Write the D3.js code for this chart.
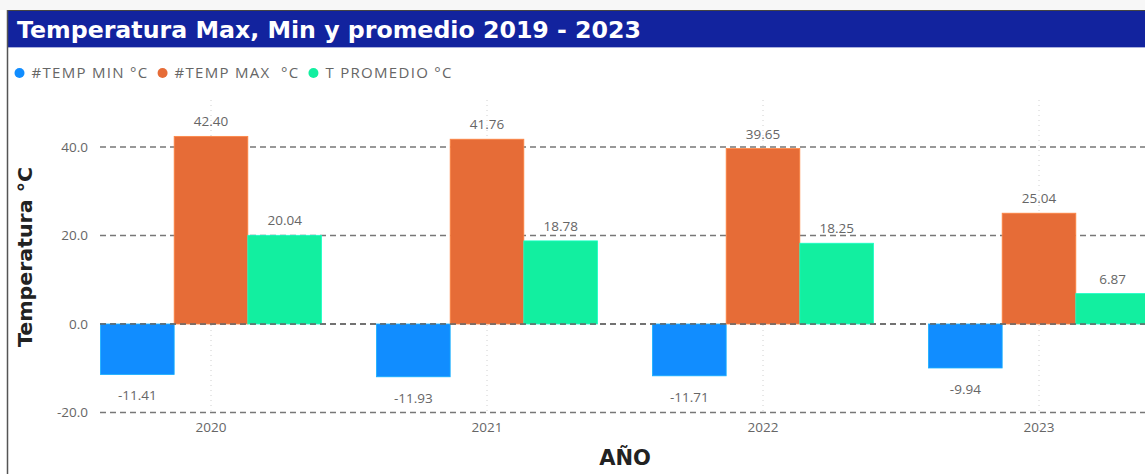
<!DOCTYPE html>
<html>
<head>
<meta charset="utf-8">
<script src="https://cdnjs.cloudflare.com/ajax/libs/d3/7.8.5/d3.min.js"></script>
<style>
body{margin:0;background:#fff;overflow:hidden}
svg{display:block}
</style>
</head>
<body>
<svg id="svg" width="1145" height="474"></svg>
<script>
// data
var years=["2020","2021","2022","2023"];
var seriesNames=["#TEMP MIN °C","#TEMP MAX  °C","T PROMEDIO °C"];
var tempMin=[-11.41,-11.93,-11.71,-9.94];
var tempMax=[42.40,41.76,39.65,25.04];
var tempProm=[20.04,18.78,18.25,6.87];
var yTicks=[-20,0,20,40];
var colors=["#118DFF","#E66C37","#12EFA0"];

var width=+d3.select("#svg").attr("width")
var height=+d3.select("#svg").attr("height")
var svg=d3.select("#svg")
var font="'Segoe UI','Open Sans',sans-serif";
var boldFont="'DejaVu Sans',Verdana,sans-serif";
var loc=d3.formatLocale({decimal:".",thousands:",",grouping:[3],currency:["",""],minus:"-"})

var rows=years.map((y,i)=>({year:y,values:[tempMin[i],tempMax[i],tempProm[i]]}))

//frame + title bar
svg.append("rect").attr("x",0).attr("y",0).attr("width",width).attr("height",10).style("fill","#f7f7f7")
svg.append("rect").attr("x",7).attr("y",10).attr("width",width-7).attr("height",37).style("fill","#12239E")
svg.append("line").attr("x1",7).attr("x2",width).attr("y1",10.5).attr("y2",10.5).style("stroke","#444").style("stroke-width",1)
svg.append("line").attr("x1",7).attr("x2",width).attr("y1",47.5).attr("y2",47.5).style("stroke","#aab0dd").style("stroke-width",1)
svg.append("line").attr("x1",7.5).attr("x2",7.5).attr("y1",10).attr("y2",height).style("stroke","#555").style("stroke-width",1.5)

svg.append("text")
    .text("Temperatura Max, Min y promedio 2019 - 2023")
    .attr("x",17).attr("y",38)
    .attr("textLength",624)
    .attr("lengthAdjust","spacingAndGlyphs")
    .style("fill","#fff")
    .style("font-family",boldFont)
    .style("font-weight","bold")
    .style("font-size","23px")

//legend
var legend=svg.append("g").attr("transform","translate(19.5,73)")
var lx=0;
seriesNames.forEach((name,i)=>{
    var g=legend.append("g").attr("transform","translate("+lx+",0)")
    g.append("circle").attr("r",5).style("fill",colors[i])
    var t=g.append("text").text(name)
        .attr("x",12).attr("dy","0.36em")
        .style("fill","#666")
        .style("font-family",font)
        .style("font-size","15px")
        .style("letter-spacing","1.3px")
        .style("white-space","pre")
    lx+=12+t.node().getComputedTextLength()+14;
})

//scales
var x0=d3.scaleBand().domain(years).range([73,1177])
var x1=d3.scaleBand().domain(d3.range(3)).range([-110.5,110.5])
var y=d3.scaleLinear().domain([-20,40]).range([412.5,147])
var plotLeft=100, plotTop=100;

//vertical dotted grid
svg.append("g").selectAll("line")
    .data(years)
    .enter().append("line")
        .attr("x1",d=>x0(d)+x0.bandwidth()/2)
        .attr("x2",d=>x0(d)+x0.bandwidth()/2)
        .attr("y1",plotTop).attr("y2",y(-20))
        .style("stroke","#d0d0d0")
        .style("stroke-dasharray","1,4")

//y axis + horizontal dashed grid
var yAxis=d3.axisLeft(y).tickValues(yTicks).tickFormat(loc.format(".1f")).tickSize(0).tickPadding(12)
svg.append("g")
    .attr("transform","translate("+plotLeft+",0)")
    .call(yAxis)
    .call(g=>g.select(".domain").remove())
    .call(g=>g.selectAll("text").style("fill","#666").style("font-family",font).style("font-size","13.5px"))

svg.append("g").selectAll("line")
    .data(yTicks)
    .enter().append("line")
        .attr("x1",plotLeft).attr("x2",width)
        .attr("y1",d=>y(d)).attr("y2",d=>y(d))
        .style("stroke","#777")
        .style("stroke-width",1.5)
        .style("stroke-dasharray","6,4")

//bars
var group=svg.append("g").selectAll("g")
    .data(rows)
    .enter().append("g")
        .attr("transform",d=>"translate("+(x0(d.year)+x0.bandwidth()/2)+",0)")

group.selectAll("rect")
    .data(d=>d.values)
    .enter().append("rect")
        .attr("x",(d,i)=>x1(i))
        .attr("width",x1.bandwidth())
        .attr("y",d=>y(Math.max(0,d)))
        .attr("height",d=>Math.abs(y(d)-y(0)))
        .style("fill",(d,i)=>colors[i])
        .style("stroke",(d,i)=>d3.color(colors[i]).brighter(0.6))
        .style("stroke-width",0.8)

group.selectAll("text")
    .data(d=>d.values)
    .enter().append("text")
        .text(d=>loc.format(".2f")(d))
        .attr("x",(d,i)=>x1(i)+x1.bandwidth()/2)
        .attr("y",d=>d>=0?y(d)-10:y(d)+26)
        .attr("text-anchor","middle")
        .style("fill","#666")
        .style("font-family",font)
        .style("font-size","13.5px")

//zero line on top
svg.append("line")
    .attr("x1",plotLeft).attr("x2",width)
    .attr("y1",y(0)).attr("y2",y(0))
    .style("stroke","#666")
    .style("stroke-width",1.5)
    .style("stroke-dasharray","6,4")

//x labels
var xAxis=d3.axisBottom(x0).tickSize(0).tickPadding(10)
svg.append("g")
    .attr("transform","translate(0,"+y(-20)+")")
    .call(xAxis)
    .call(g=>g.select(".domain").remove())
    .call(g=>g.selectAll("text").style("fill","#666").style("font-family",font).style("font-size","13.5px"))

//axis titles
svg.append("text")
    .text("AÑO")
    .attr("x",(x0.range()[0]+x0.range()[1])/2).attr("y",465)
    .attr("text-anchor","middle")
    .style("fill","#222")
    .style("font-family",boldFont)
    .style("font-weight","bold")
    .style("font-size","21px")

svg.append("text")
    .text("Temperatura °C")
    .attr("transform","translate(32,257) rotate(-90)")
    .attr("text-anchor","middle")
    .attr("textLength",180)
    .attr("lengthAdjust","spacingAndGlyphs")
    .style("fill","#222")
    .style("font-family",boldFont)
    .style("font-weight","bold")
    .style("font-size","20px")
</script>
</body>
</html>
